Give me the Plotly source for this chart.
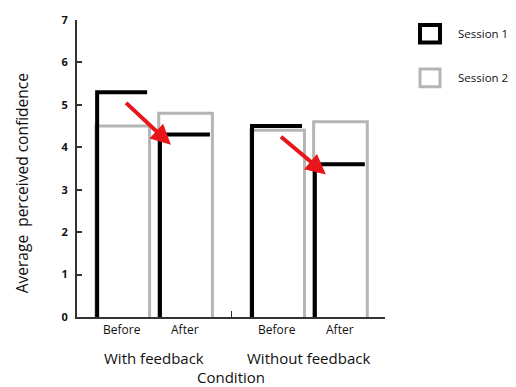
import plotly.graph_objects as go

# ---- data ----
conditions = ["With feedback", "Without feedback"]
phases = ["Before", "After"]
session1 = [5.3, 4.3, 4.5, 3.6]   # With-Before, With-After, Without-Before, Without-After
session2 = [4.5, 4.8, 4.4, 4.6]
y_ticks = [0, 1, 2, 3, 4, 5, 6, 7]

# ---- positions (category layout on a numeric axis) ----
group_starts = [1.0, 3.54]
phase_step = 1.03
centers = [g + i * phase_step for g in group_starts for i in range(len(phases))]
group_centers = [g + phase_step * (len(phases) - 1) / 2 for g in group_starts]
separator = (centers[1] + centers[2]) / 2

FONT = "Open Sans"
BLACK = "#000000"
GRAY = "#b5b5b5"
RED = "#e8151b"

fig = go.Figure()

# session 2 (gray outline: left, top, right)
for c, v in zip(centers, session2):
    l, r = c - 0.43, c + 0.45
    fig.add_trace(go.Scatter(x=[l, l, r, r], y=[0, v, v, 0], mode="lines",
                             line=dict(color=GRAY, width=3), showlegend=False,
                             hoverinfo="skip"))
# session 1 (black outline: left, top)
for c, v in zip(centers, session1):
    l, r = c - 0.41, c + 0.41
    fig.add_trace(go.Scatter(x=[l, l, r], y=[0, v, v], mode="lines",
                             line=dict(color=BLACK, width=4), showlegend=False,
                             hoverinfo="skip"))

annotations = []
# red arrows from before to after for session 1
for gi in range(len(conditions)):
    b, a = 2 * gi, 2 * gi + 1
    annotations.append(dict(
        x=centers[a] - 0.23, y=session1[a] - 0.24, xref="x", yref="y",
        ax=centers[b] + 0.04, ay=session1[b] - 0.22, axref="x", ayref="y",
        showarrow=True, arrowhead=2, arrowsize=1.0, arrowwidth=4,
        arrowcolor=RED, text=""))

# phase labels
for c, p in zip(centers, phases * len(conditions)):
    annotations.append(dict(x=c, y=-0.043, xref="x", yref="paper", text=p,
                            showarrow=False, yanchor="middle",
                            font=dict(family=FONT, size=12, color="#111")))
# group labels
for gc, name in zip(group_centers, conditions):
    annotations.append(dict(x=gc, y=-0.139, xref="x", yref="paper", text=name,
                            showarrow=False, yanchor="middle",
                            font=dict(family=FONT, size=15, color="#111")))
annotations.append(dict(x=separator, y=-0.201, xref="x", yref="paper",
                        text="Condition", showarrow=False, yanchor="middle",
                        font=dict(family=FONT, size=15, color="#111")))
annotations.append(dict(x=-0.179, y=0.45, xref="paper", yref="paper",
                        text="Average  perceived confidence", textangle=-90,
                        showarrow=False, xanchor="center", yanchor="middle",
                        font=dict(family=FONT, size=15.5, color="#111")))

# legend
legend_items = [("Session 1", BLACK, 4), ("Session 2", GRAY, 3)]
shapes = []
for i, (name, col, w) in enumerate(legend_items):
    cy = 28 + i * 45
    x0, x1 = 420, 440
    shapes.append(dict(type="rect", xref="paper", yref="paper",
                       x0=(x0 - 77) / 308, x1=(x1 - 77) / 308,
                       y0=(317 - (cy + 9)) / 303, y1=(317 - (cy - 9)) / 303,
                       line=dict(color=col, width=w), fillcolor="white"))
    annotations.append(dict(x=(456 - 77) / 308, y=(317 - cy) / 303,
                            xref="paper", yref="paper", text=name,
                            showarrow=False, xanchor="left", yanchor="middle",
                            font=dict(family=FONT, size=11.5, color="#111")))

fig.update_layout(
    width=516, height=387,
    margin=dict(l=77, r=131, t=14, b=70),
    plot_bgcolor="white", paper_bgcolor="white",
    annotations=annotations, shapes=shapes,
    xaxis=dict(range=[0.26, 5.31], showgrid=False, zeroline=False,
               showline=True, linecolor="#333", linewidth=2,
               tickvals=[separator], ticktext=[""], ticks="inside",
               ticklen=6, tickcolor="#333", tickwidth=1),
    yaxis=dict(range=[0, 7], showgrid=False, zeroline=False,
               showline=True, linecolor="#333", linewidth=2,
               tickvals=y_ticks, ticks="inside", ticklen=5,
               tickcolor="#333", tickwidth=2,
               tickfont=dict(family=FONT, size=11, color="#111", weight="bold"),
               ticklabelstandoff=5),
    showlegend=False,
)

fig.write_html("out.html", config={"displayModeBar": False},
               post_script="document.body.style.margin='0';document.body.style.overflow='hidden';")
